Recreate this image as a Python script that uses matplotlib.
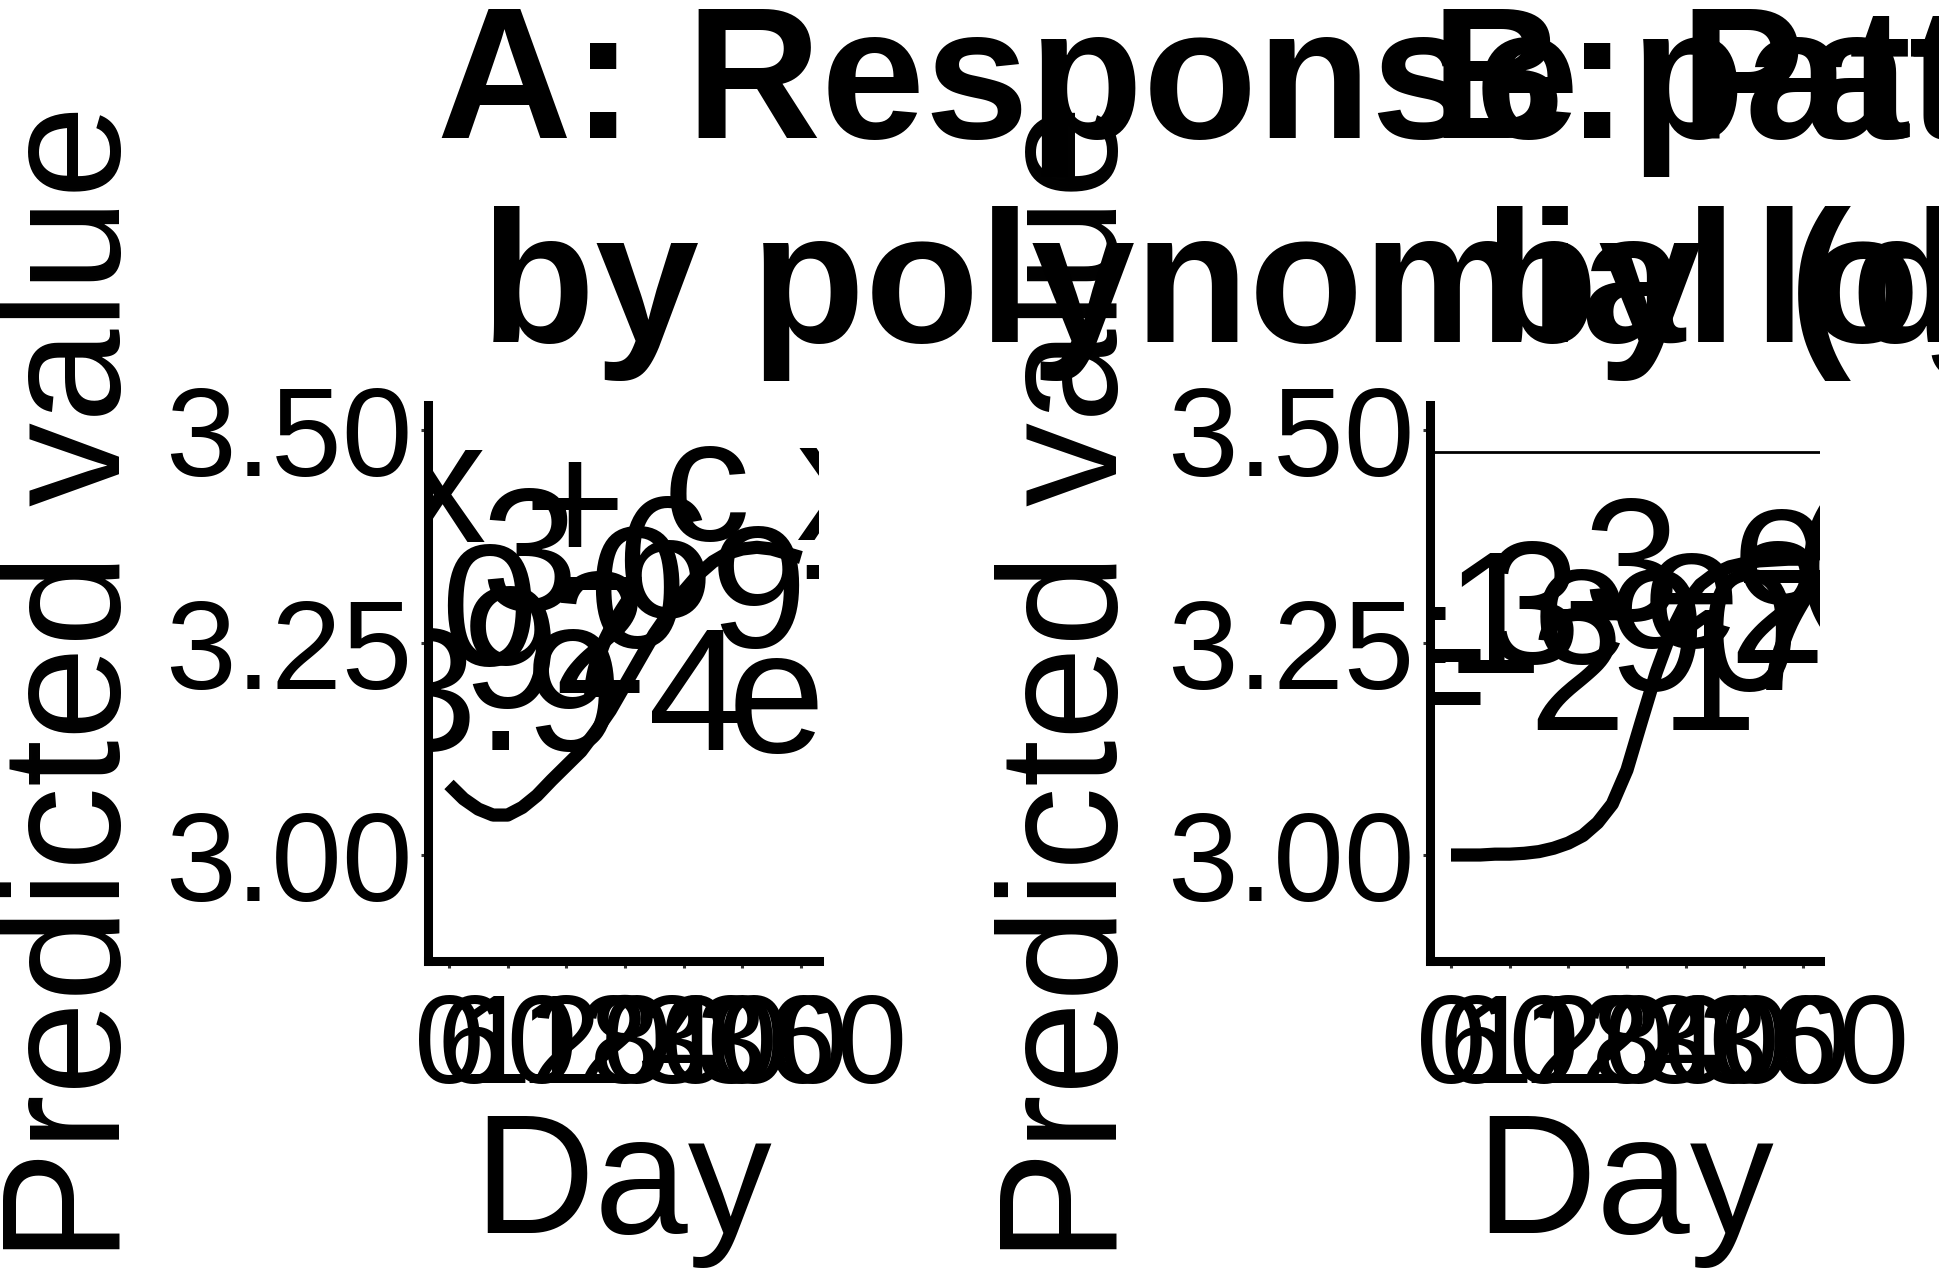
import numpy as np
import matplotlib
matplotlib.use("Agg")
import matplotlib.pyplot as plt

plt.rcParams['font.family'] = ['Liberation Sans', 'DejaVu Sans']

# fitted curves
days = [0, 15, 30, 45, 60, 75, 90, 105, 120, 135, 150, 165, 180,
        195, 210, 225, 240, 255, 270, 285, 300, 315, 330, 345, 360]
poly_pred = [3.083, 3.066, 3.054, 3.047, 3.047, 3.056, 3.070, 3.088, 3.105,
             3.122, 3.145, 3.170, 3.200, 3.230, 3.260, 3.285, 3.310, 3.330,
             3.345, 3.355, 3.360, 3.362, 3.360, 3.355, 3.350]
logis_pred = [3.000, 3.000, 3.000, 3.001, 3.001, 3.002, 3.004, 3.008, 3.014,
              3.023, 3.038, 3.060, 3.100, 3.158, 3.215, 3.262, 3.296, 3.318,
              3.331, 3.339, 3.343, 3.346, 3.347, 3.348, 3.348]
upper_ref = 3.474

# oversized labels inside the panels (text, day, value)
a_lab_text = ["x", "3", "+", "c", "x", "0", "9", "2", "0", "6", "9", "-",
              "7", "3.9", "4", "e", "("]
a_lab_day = [-52.2, 31.7, 76.7, 218.9, 354.0, -9.2, 13.3, 103.3, 142.2,
             169.8, 267.0, 357.0, 106.4, -71.6, 203.6, 285.4, 367.3]
a_lab_val = [3.368, 3.288, 3.345, 3.371, 3.371, 3.224, 3.174, 3.191, 3.245,
             3.280, 3.245, 3.278, 3.186, 3.124, 3.124, 3.121, 3.135]

b_lab_text = ["=", "=", "1", "3", "e", "-", "2", "3", "9", "e", "1", "0",
              "7", "e", "2", "("]
b_lab_day = [-101.3, -65.5, -6.1, 32.7, 83.9, 113.6, 78.8, 134.0, 160.6,
             196.4, 213.8, 254.7, 290.5, 288.5, 283.4, 348.8]
b_lab_val = [3.192, 3.142, 3.214, 3.226, 3.226, 3.235, 3.147, 3.276, 3.194,
             3.245, 3.147, 3.194, 3.194, 3.296, 3.226, 3.287]

x_ticks = [0, 60, 120, 180, 240, 300, 360]
y_ticks = [3.00, 3.25, 3.50]
y_tick_labels = ["3.00", "3.25", "3.50"]

W, H = 1939, 1276
fig = plt.figure(figsize=(W / 100, H / 100), dpi=100)


def make_panel(left_px, ylab_x):
    ax = fig.add_axes([left_px / W, (H - 960.5) / H, 391 / W, 555.5 / H])
    ax.set_xlim(-22, 378)
    ax.set_ylim(2.8759, 3.5294)
    for s in ['top', 'right']:
        ax.spines[s].set_visible(False)
    for s in ['left', 'bottom']:
        ax.spines[s].set_linewidth(6.5)
        ax.spines[s].set_capstyle('projecting')
    ax.set_xticks(x_ticks)
    ax.set_xticklabels([str(t) for t in x_ticks])
    ax.set_yticks(y_ticks)
    ax.set_yticklabels(y_tick_labels)
    ax.tick_params(axis='both', direction='out', length=5, width=2.2,
                   color='#333333', labelsize=91.5, labelcolor='black')
    ax.tick_params(axis='x', pad=17)
    ax.tick_params(axis='y', pad=5.5)
    ax.set_xlabel('Day', fontsize=121)
    ax.xaxis.set_label_coords(0.5, -0.4906)
    ax.xaxis.label.set_va('baseline')
    ax.set_ylabel('Predicted value', fontsize=121)
    ax.yaxis.set_label_coords(ylab_x, 0.5)
    ax.yaxis.label.set_va('baseline')
    return ax


ax1 = make_panel(427.5, -0.786)
ax1.plot(days, poly_pred, color='black', lw=9.5, solid_capstyle='butt')
for t, d, v in zip(a_lab_text, a_lab_day, a_lab_val):
    ax1.text(d, v, t, fontsize=126, ha='left', va='baseline', clip_on=True)

ax2 = make_panel(1429.5, -0.799)
ax2.axhline(upper_ref, color='black', lw=2)
ax2.plot(days, logis_pred, color='black', lw=9.5, solid_capstyle='butt')
for t, d, v in zip(b_lab_text, b_lab_day, b_lab_val):
    ax2.text(d, v, t, fontsize=126, ha='left', va='baseline', clip_on=True)

# titles (two lines each, run off the right edge like the original)
title_kw = dict(fontsize=134.6, fontweight='bold', ha='left', va='baseline')
fig.text(437 / W, 1 - 138 / H, 'A: Response pattern over time', **title_kw)
fig.text(481 / W, 1 - 342 / H, 'by polynomial (degree 3)', **title_kw)
fig.text(1431 / W, 1 - 138 / H, 'B: Pattern of change', **title_kw)
fig.text(1484 / W, 1 - 342 / H, 'by logistic (sigmoid) fit', **title_kw)

fig.savefig('out.png', dpi=100, facecolor='white')
